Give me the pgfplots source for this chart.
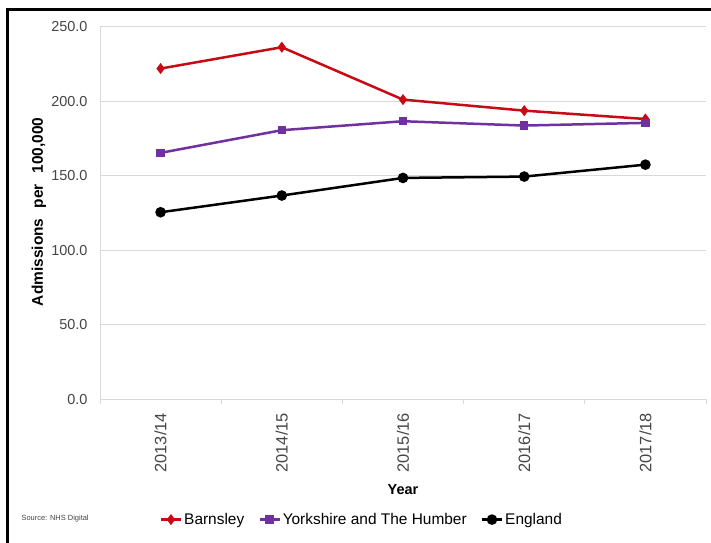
\documentclass[border=0pt]{standalone}
\usepackage{pgfplots}
\pgfplotsset{compat=1.18}
\usepackage{fontspec}
\setmainfont{Liberation Sans}
\definecolor{bred}{RGB}{200,10,20}
\definecolor{ypurple}{RGB}{112,48,160}
\definecolor{tickgray}{RGB}{70,70,70}
\definecolor{gridgray}{RGB}{217,217,217}
\begin{document}
\begin{tikzpicture}[x=1bp,y=1bp]
\useasboundingbox (0,0) rectangle (711,543);
\fill[white] (0,0) rectangle (711,543);
\begin{axis}[
  at={(100bp,143.5bp)}, anchor=south west,
  scale only axis, width=606bp, height=373bp,
  xmin=-0.5, xmax=4.5, ymin=0, ymax=250,
  xtick={0,1,2,3,4},
  xticklabels={2013/14,2014/15,2015/16,2016/17,2017/18},
  minor xtick={-0.5,0.5,1.5,2.5,3.5,4.5},
  ytick={0,50,100,150,200,250},
  axis x line*=bottom, axis y line*=left,
  axis line style={gridgray, line width=1bp},
  major tick length=0pt, minor tick length=5bp,
  tick align=outside,
  minor tick style={gridgray, line width=1bp},
  ymajorgrids, major grid style={gridgray, line width=1bp},
  /pgf/number format/assume math mode=true,
  yticklabel={\pgfmathprintnumber[fixed,fixed zerofill,precision=1]{\tick}},
  yticklabel style={font=\fontsize{14.5}{16}\selectfont, text=tickgray, xshift=-9bp},
  xticklabel style={font=\fontsize{16.5}{18}\selectfont, text=tickgray, rotate=90, anchor=east, xshift=-10bp},
  xlabel={Year},
  xlabel style={font=\bfseries\fontsize{14.5}{16}\selectfont, at={(axis description cs:0.5,-0.241)}, anchor=center},
  ylabel={Admissions\hspace{0.4em} per\hspace{0.4em} 100,000},
  ylabel style={font=\bfseries\fontsize{15.5}{17}\selectfont, at={(axis description cs:-0.101,0.503)}, anchor=center, rotate=0},
  legend style={at={(axis description cs:0.432,-0.322)}, anchor=center, draw=none, fill=none,
    font=\fontsize{15.5}{17}\selectfont, legend columns=3,
    /tikz/every even column/.append style={column sep=12bp}},
  legend image code/.code={\draw[#1] (0bp,0bp) -- (20bp,0bp); \draw[#1, mark repeat=2, mark phase=2] plot coordinates {(0bp,0bp) (10bp,0bp) (20bp,0bp)};},
  legend cell align=left,
]
\addplot[bred, line width=2.5bp, mark=diamond*, mark size=3.5bp, mark options={solid}] coordinates {
  (0,221.8) (1,236.1) (2,201.0) (3,193.6) (4,188.0)};
\addlegendentry{Barnsley}
\addplot[ypurple, line width=2.5bp, mark=square*, mark size=3bp] coordinates {
  (0,165.3) (1,180.5) (2,186.5) (3,183.6) (4,185.4)};
\addlegendentry{Yorkshire and The Humber}
\addplot[black, line width=2.5bp, mark=*, mark size=4bp] coordinates {
  (0,125.5) (1,136.7) (2,148.5) (3,149.4) (4,157.4)};
\addlegendentry{England}
\end{axis}
\node[anchor=west, font=\fontsize{7.5}{9}\selectfont, text=tickgray] at (18,24) {Source: NHS Digital};
\draw[black, line width=2.5bp] (7.5,-5) -- (7.5,533.5) -- (720,533.5);
\end{tikzpicture}
\end{document}
